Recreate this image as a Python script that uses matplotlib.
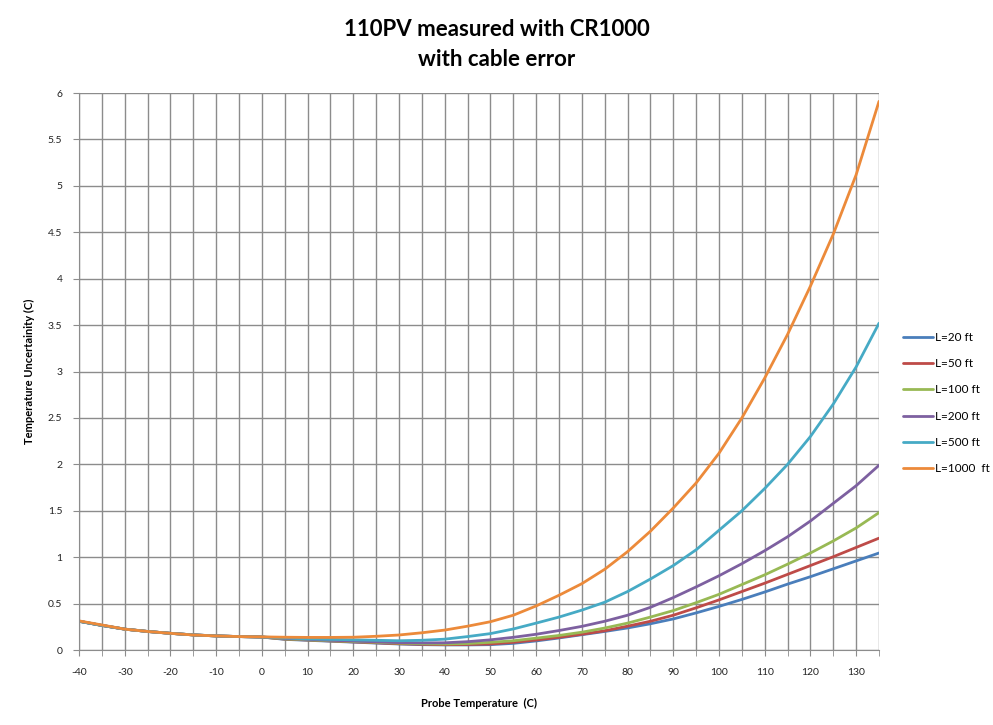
import matplotlib
matplotlib.use("Agg")
import matplotlib.pyplot as plt
from matplotlib.ticker import MultipleLocator, FixedLocator

temps = list(range(-40, 140, 5))

common = [0.31, 0.265, 0.225, 0.2, 0.18, 0.163, 0.152, 0.145, 0.14]

l20 = common + [0.115, 0.105, 0.095, 0.085, 0.075, 0.065, 0.058, 0.055, 0.055, 0.058,
                0.072, 0.098, 0.13, 0.165, 0.2, 0.238, 0.283, 0.335, 0.40, 0.47, 0.545,
                0.625, 0.71, 0.79, 0.875, 0.96, 1.045]
l50 = common + [0.118, 0.108, 0.098, 0.088, 0.078, 0.068, 0.062, 0.058, 0.06, 0.065,
                0.083, 0.108, 0.137, 0.17, 0.207, 0.257, 0.31, 0.375, 0.455, 0.54, 0.63,
                0.72, 0.815, 0.91, 1.005, 1.105, 1.205]
l100 = common + [0.12, 0.11, 0.1, 0.092, 0.083, 0.074, 0.068, 0.065, 0.07, 0.083,
                 0.1, 0.128, 0.157, 0.192, 0.237, 0.29, 0.355, 0.425, 0.51, 0.6, 0.705,
                 0.81, 0.925, 1.045, 1.175, 1.315, 1.48]
l200 = common + [0.125, 0.115, 0.105, 0.097, 0.088, 0.08, 0.077, 0.078, 0.09, 0.11,
                 0.137, 0.17, 0.21, 0.255, 0.31, 0.375, 0.46, 0.565, 0.68, 0.80, 0.93,
                 1.07, 1.22, 1.39, 1.58, 1.77, 1.99]
l500 = common + [0.13, 0.12, 0.115, 0.11, 0.105, 0.1, 0.105, 0.117, 0.145, 0.177,
                 0.227, 0.29, 0.355, 0.43, 0.515, 0.63, 0.765, 0.91, 1.08, 1.29, 1.50,
                 1.74, 2.0, 2.3, 2.65, 3.05, 3.52]
l1000 = [0.314, 0.27, 0.225, 0.2, 0.18, 0.162, 0.152, 0.145, 0.142,
         0.138, 0.136, 0.136, 0.138, 0.148, 0.162, 0.186, 0.215, 0.257, 0.305,
         0.375, 0.475, 0.59, 0.715, 0.87, 1.06, 1.28, 1.53, 1.80, 2.12, 2.50,
         2.93, 3.40, 3.92, 4.48, 5.12, 5.91]

labels = ["L=20 ft", "L=50 ft", "L=100 ft", "L=200 ft", "L=500 ft", "L=1000  ft"]
series = [l20, l50, l100, l200, l500, l1000]
colors = ["#4A7EBB", "#BE4B48", "#98B954", "#7D60A0", "#46AAC5", "#EC8A3A"]

xticks = list(range(-40, 140, 10))
yticks = [0, 0.5, 1, 1.5, 2, 2.5, 3, 3.5, 4, 4.5, 5, 5.5, 6]

plt.rcParams['font.family'] = ['Lato', 'DejaVu Sans']
plt.rcParams['axes.unicode_minus'] = False

fig = plt.figure(figsize=(9.93, 7.25), dpi=100)
ax = fig.add_axes([0.0796, 0.1034, 0.8056, 0.7683])

for vals, lab, col in zip(series, labels, colors):
    ax.plot(temps, vals, color=col, lw=2.0, label=lab,
            solid_capstyle='round', solid_joinstyle='round')

ax.set_xlim(-40, 135)
ax.set_ylim(0, 6)
ax.xaxis.set_major_locator(FixedLocator(xticks))
ax.xaxis.set_minor_locator(MultipleLocator(5))
ax.yaxis.set_major_locator(FixedLocator(yticks))
ax.set_yticklabels([("%g" % v) for v in yticks])
ax.grid(True, which='both', axis='x', color='#8c8c8c', lw=1.0)
ax.grid(True, which='major', axis='y', color='#8c8c8c', lw=1.0)
ax.set_axisbelow(True)
for s in ['top', 'right']:
    ax.spines[s].set_visible(False)
for s in ['left', 'bottom']:
    ax.spines[s].set_color('#8c8c8c')
ax.tick_params(axis='both', which='both', direction='out', length=4, color='#8c8c8c',
               labelsize=7.5, labelcolor='#222222')
ax.tick_params(axis='x', pad=9)
ax.tick_params(axis='y', pad=8)

ax.set_xlabel("Probe Temperature  (C)", fontsize=8, fontweight='bold', labelpad=15)
ax.set_ylabel("Temperature Uncertainity (C)", fontsize=8, fontweight='bold', labelpad=9)

fig.text(0.5, 0.96, "110PV measured with CR1000", ha='center', va='center',
         fontsize=16, fontweight='bold')
fig.text(0.5, 0.918, "with cable error", ha='center', va='center',
         fontsize=16, fontweight='bold')

fig.legend(loc='center left', bbox_to_anchor=(0.909, 0.444), frameon=False,
           fontsize=8.5, handlelength=2.6, handletextpad=0.15, labelspacing=1.3,
           borderpad=0, borderaxespad=0)

fig.savefig("out.png", dpi=100, facecolor='white')
